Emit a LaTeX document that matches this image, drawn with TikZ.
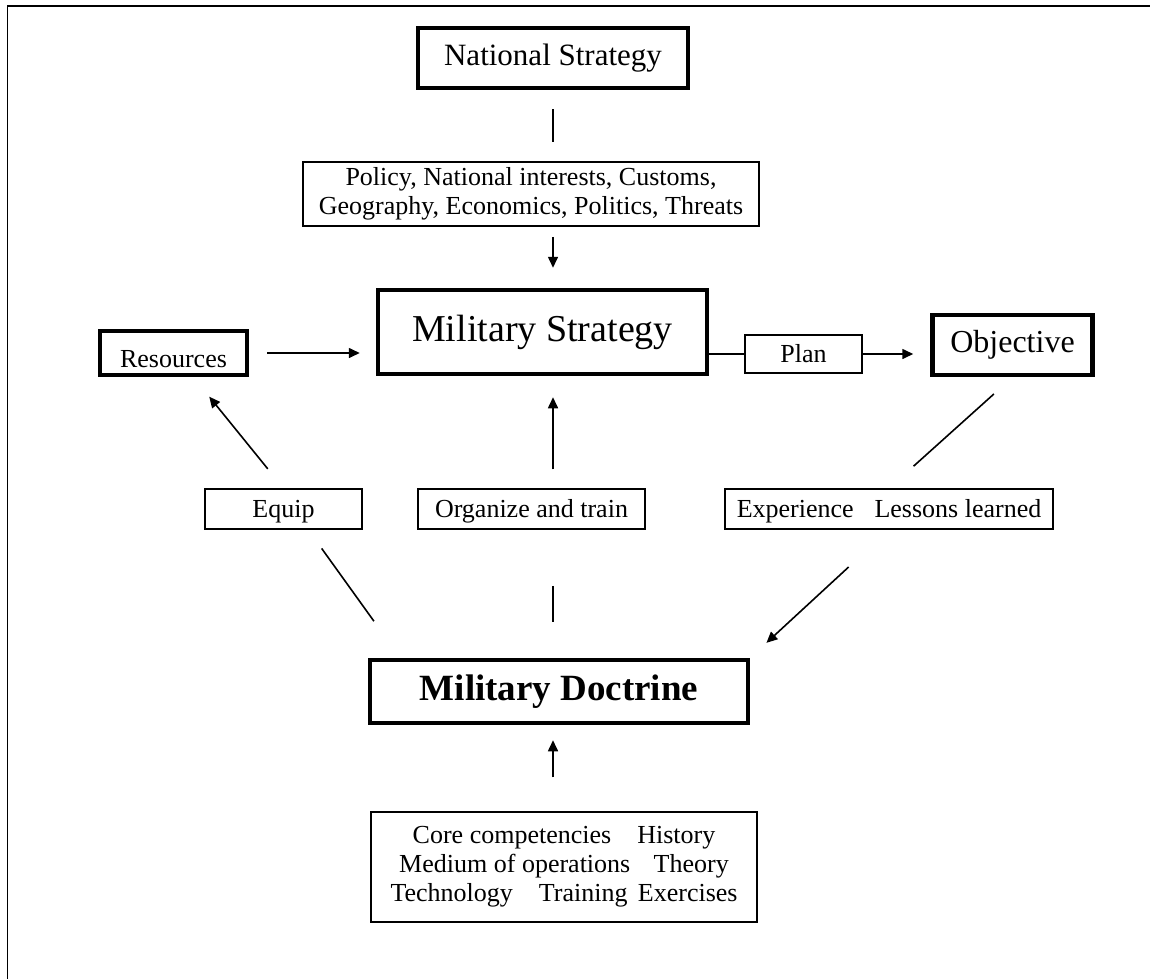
\documentclass[tikz,border=0pt]{standalone}
\usepackage{fontspec}
\setmainfont{Liberation Serif}
\usetikzlibrary{arrows.meta,positioning,calc}
\tikzset{thick box/.style={draw, line width=4.5pt, rectangle, inner sep=0pt, align=center}}
\tikzset{thin box/.style={draw, line width=1.5pt, rectangle, inner sep=0pt, align=center}}
\tikzset{one line/.style={text height=18pt, text depth=2pt}}
\tikzset{link/.style={line width=1.6pt}}
\tikzset{arrow link/.style={link, -{Triangle[length=11pt,width=10pt]}}}
\newcommand{\bigtext}{\fontsize{38}{42}\selectfont}
\newcommand{\smalltext}{\fontsize{26}{29}\selectfont}

\begin{document}
\begin{tikzpicture}[x=1pt, y=-1pt]
  \useasboundingbox (0,0) rectangle (1150,979);
  \draw [line width=1.7pt] (7.5,979) -- (7.5,6) -- (1150,6);

  \coordinate (axis) at (553,0);

  \node [thick box, font=\fontsize{31}{34}\selectfont, minimum width=270pt, minimum height=60pt]  (ns)     at ( 553,  58) {National Strategy};
  \node [thin box,  font=\smalltext, minimum width=456pt, minimum height=64pt]  (policy) at ( 531, 194) {Policy, National interests, Customs,\\ Geography, Economics, Politics, Threats};
  \node [thick box, font=\smalltext, text height=30pt, text depth=2pt, minimum width=147pt, minimum height=44pt]  (res) at (173.5, 353) {Resources};
  \node [thick box, font=\bigtext,   minimum width=329pt, minimum height=84pt]  (ms)     at ( 542.5, 332) {Military Strategy};
  \node [thin box,  font=\smalltext, one line, minimum width=117pt, minimum height=38pt]  (plan)   at ( 803.5, 354) {Plan};
  \node [thick box, font=\fontsize{32}{36}\selectfont, minimum width=160pt, minimum height=60pt]  (obj) at (1012.5, 345) {Objective};
  \node [thin box,  font=\smalltext, one line, minimum width=157pt, minimum height=40pt]  (equip)  at ( 283.5, 509) {Equip};
  \node [thin box,  font=\smalltext, one line, minimum width=227pt, minimum height=40pt]  (org)    at ( 531.5, 509) {Organize and train};
  \node [thin box,  font=\smalltext, one line, minimum width=328pt, minimum height=40pt]  (exp)    at ( 889,   509) {Experience\hspace{0.8em}Lessons learned};
  \node [thick box, font=\fontsize{37}{40}\selectfont\bfseries, minimum width=378pt, minimum height=63pt] (md) at (559, 691.5) {Military Doctrine};
  \node [thin box,  font=\smalltext, minimum width=386pt, minimum height=110pt] (core)   at ( 564,   867)
    {Core competencies\hspace{1em}History\\ Medium of operations\hspace{0.9em}Theory\\ Technology\hspace{1em}Training\hspace{0.4em}Exercises};

  % upper half
  \draw [link, shorten <=19pt, shorten >=19pt] (ns.south) -- (policy.north -| axis);
  \draw [arrow link, shorten <=10pt, shorten >=20pt] (policy.south -| axis) -- (ms.north -| axis);
  \draw [arrow link, shorten <=18pt, shorten >=16pt] (res.east) -- (res.east -| ms.west);
  \draw [link] (ms.east |- plan.west) -- (plan.west);
  \draw [arrow link, shorten >=17pt] (plan.east) -- (plan.east -| obj.west);

  % middle row
  \draw [arrow link, shorten <=25pt, shorten >=25pt] (equip.north) -- ([xshift=20pt]res.south);
  \draw [arrow link, shorten <=19pt, shorten >=21pt] (org.north -| axis) -- (ms.south -| axis);
  \draw [link, shorten <=25pt, shorten >=33pt] (obj.south) -- (exp.north);

  % lower half
  \draw [link, shorten <=23pt, shorten >=45pt] (equip.-40) -- (md.168);
  \draw [link, shorten <=56pt, shorten >=36pt] (org.south -| axis) -- (md.north -| axis);
  \draw [arrow link, shorten <=55pt, shorten >=22pt] (exp.south) -- (md.north east);
  \draw [arrow link, shorten <=34pt, shorten >=15pt] (core.north -| axis) -- (md.south -| axis);
\end{tikzpicture}
\end{document}
